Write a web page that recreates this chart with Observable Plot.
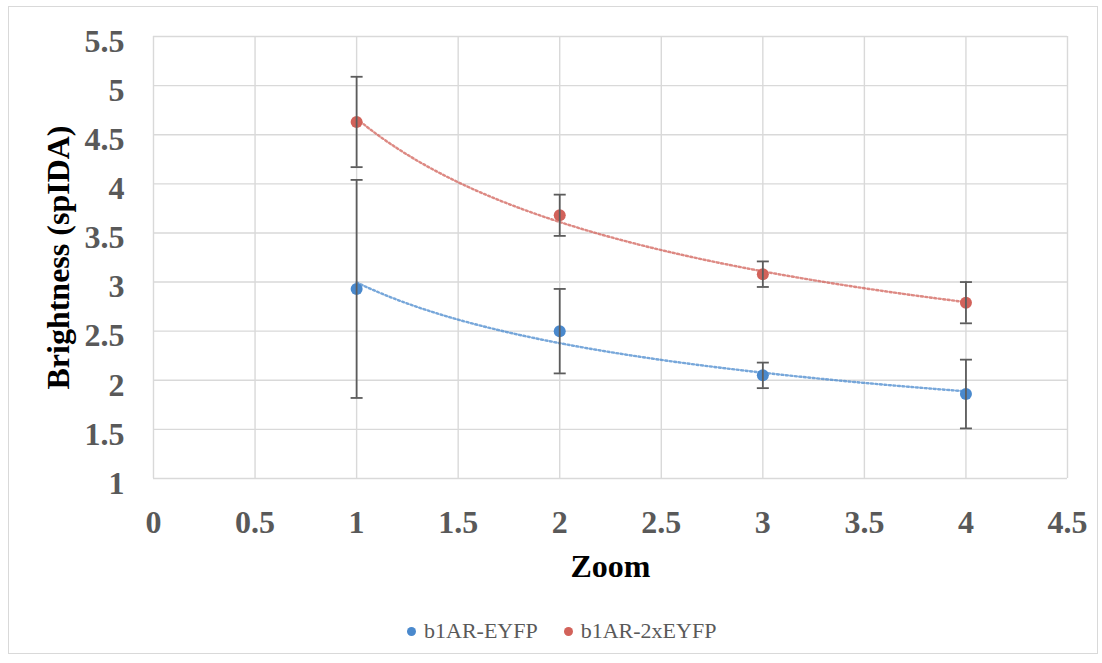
<!DOCTYPE html>
<html>
<head>
<meta charset="utf-8">
<script src="https://cdn.jsdelivr.net/npm/d3@7"></script>
<script src="https://cdn.jsdelivr.net/npm/@observablehq/plot@0.6"></script>
<style>
  html, body { margin: 0; padding: 0; background: #fff; }
  #wrap { position: relative; width: 1102px; height: 663px; overflow: hidden; }
  #frame { position: absolute; left: 8px; top: 6px; width: 1090px; height: 648px; border: 1.5px solid #d9d9d9; box-sizing: border-box; }
  #chart { position: absolute; left: 0; top: 0; }
  #legend { position: absolute; left: 407px; top: 618px; font-family: "Liberation Serif", serif; font-size: 22px; color: #595959; display: flex; align-items: center; white-space: nowrap; }
  .item { display: flex; align-items: center; margin-right: 26px; }
  .sw { width: 9px; height: 9px; border-radius: 50%; margin-right: 8px; }
</style>
</head>
<body>
<div id="wrap">
  <div id="frame"></div>
  <div id="chart"></div>
  <div id="legend"></div>
</div>
<script>
// ---- data ----
const zoomLevels = [1, 2, 3, 4];
const seriesNames = ["b1AR-EYFP", "b1AR-2xEYFP"];
const seriesColors = ["#4a89cd", "#d2625a"];
const eyfpMean = [2.93, 2.50, 2.05, 1.86];
const eyfpErr  = [1.11, 0.43, 0.13, 0.35];
const x2Mean   = [4.63, 3.68, 3.08, 2.79];
const x2Err    = [0.46, 0.21, 0.13, 0.21];
const xTicks = [0, 0.5, 1, 1.5, 2, 2.5, 3, 3.5, 4, 4.5];
const yTicks = [1, 1.5, 2, 2.5, 3, 3.5, 4, 4.5, 5, 5.5];
const xLabel = "Zoom";
const yLabel = "Brightness (spIDA)";

// ---- build rows ----
const means = [eyfpMean, x2Mean];
const errs = [eyfpErr, x2Err];
const rows = [];
seriesNames.forEach((s, i) => zoomLevels.forEach((z, j) => rows.push({
  series: s, zoom: z, value: means[i][j], lo: means[i][j] - errs[i][j], hi: means[i][j] + errs[i][j]
})));

// power trendline (least squares in log-log space), as Excel does
const trend = [];
seriesNames.forEach((s, i) => {
  const lx = zoomLevels.map(Math.log), ly = means[i].map(Math.log);
  const mx = d3.mean(lx), my = d3.mean(ly);
  const b = d3.sum(lx, (v, k) => (v - mx) * (ly[k] - my)) / d3.sum(lx, v => (v - mx) ** 2);
  const a = Math.exp(my - b * mx);
  const x0 = d3.min(zoomLevels), x1 = d3.max(zoomLevels);
  for (let k = 0; k <= 60; k++) {
    const x = x0 + (x1 - x0) * k / 60;
    trend.push({series: s, zoom: x, value: a * Math.pow(x, b)});
  }
});

const cap = { draw(ctx, size) { const r = Math.sqrt(size / Math.PI); ctx.moveTo(-r, 0); ctx.lineTo(r, 0); } };
const errColor = "#5c5c5c";
const fmt = d => String(d);

const chart = Plot.plot({
  width: 1102,
  height: 600,
  marginLeft: 153,
  marginRight: 35,
  marginTop: 36,
  marginBottom: 122,
  style: { fontFamily: "Liberation Serif, serif", background: "transparent" },
  x: { domain: [0, 4.5] },
  y: { domain: [1, 5.5] },
  color: { domain: seriesNames, range: seriesColors },
  marks: [
    Plot.gridX(xTicks, { stroke: "#d9d9d9", strokeOpacity: 1, strokeWidth: 1.4 }),
    Plot.gridY(yTicks, { stroke: "#d9d9d9", strokeOpacity: 1, strokeWidth: 1.4 }),
    Plot.axisX(xTicks, { tickSize: 0, tickPadding: 32, fontSize: 32, fontWeight: "bold", fill: "#595959", label: null, tickFormat: fmt }),
    Plot.axisY(yTicks, { tickSize: 0, tickPadding: 29, fontSize: 32, fontWeight: "bold", fill: "#595959", label: null, dy: 5, tickFormat: fmt }),
    Plot.line(trend, { x: "zoom", y: "value", z: "series", stroke: "series", strokeWidth: 2.4, strokeDasharray: "2,2.5", strokeOpacity: 0.75 }),
    Plot.dot(rows, { x: "zoom", y: "value", fill: "series", r: 6 }),
    Plot.ruleX(rows, { x: "zoom", y1: "lo", y2: "hi", stroke: errColor, strokeWidth: 1.8 }),
    Plot.dot(rows, { x: "zoom", y: "hi", symbol: cap, r: 6, stroke: errColor, strokeWidth: 1.8 }),
    Plot.dot(rows, { x: "zoom", y: "lo", symbol: cap, r: 6, stroke: errColor, strokeWidth: 1.8 }),
    Plot.text([xLabel], { frameAnchor: "bottom", dy: 98, fontSize: 32, fontWeight: "bold", fill: "#000" }),
    Plot.text([yLabel], { frameAnchor: "left", textAnchor: "middle", rotate: -90, dx: -95, fontSize: 32, fontWeight: "bold", fill: "#000" })
  ]
});
document.getElementById("chart").appendChild(chart);

const legend = document.getElementById("legend");
seriesNames.forEach((s, i) => {
  const it = document.createElement("div");
  it.className = "item";
  const sw = document.createElement("span");
  sw.className = "sw";
  sw.style.background = seriesColors[i];
  const tx = document.createElement("span");
  tx.textContent = s;
  it.appendChild(sw); it.appendChild(tx);
  legend.appendChild(it);
});
</script>
</body>
</html>
